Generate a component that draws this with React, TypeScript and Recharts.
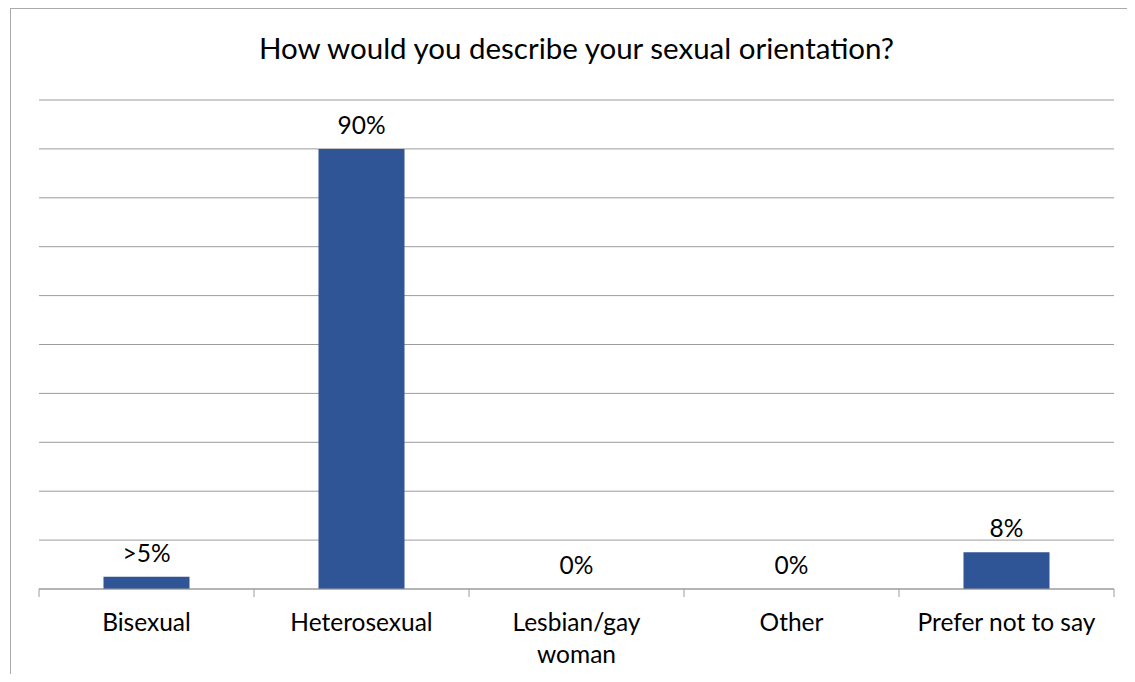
import { ComposedChart, Bar, Line, XAxis, YAxis, CartesianGrid, LabelList } from "recharts";

const categories = ["Bisexual", "Heterosexual", "Lesbian/gay\nwoman", "Other", "Prefer not to say"];
const shares = [2.5, 90, 0, 0, 7.5];
const shareLabels = [">5%", "90%", "0%", "0%", "8%"];
const yTicks = [0, 10, 20, 30, 40, 50, 60, 70, 80, 90, 100];

const TITLE = "How would you describe your sexual orientation?";
const FONT = "Lato, 'Noto Sans', sans-serif";
const BAR_COLOR = "#2f5597";
const LINE_COLOR = "#9c9c9c";

const W = 1124;
const H = 665;
const MARGIN = { top: 91, right: 21, bottom: 25, left: 28 };
const PLOT_H = 489;
const AXIS_Y = MARGIN.top + PLOT_H;
const BAND = (W - MARGIN.left - MARGIN.right) / categories.length;

const data = categories.map((name, i) => ({
  name,
  value: shares[i],
  label: shareLabels[i],
}));

function CategoryTick(props: any) {
  const { x, payload, index } = props;
  const half = typeof payload?.offset === "number" && payload.offset > 0 ? payload.offset : BAND / 2;
  const lines = String(payload.value).split("\n");
  return (
    <g>
      <line x1={x - half} x2={x - half} y1={AXIS_Y} y2={AXIS_Y + 8} stroke={LINE_COLOR} />
      {index === categories.length - 1 && (
        <line x1={x + half} x2={x + half} y1={AXIS_Y} y2={AXIS_Y + 8} stroke={LINE_COLOR} />
      )}
      <text x={x} y={AXIS_Y + 42} textAnchor="middle" fill="#000" fontSize={24.5} fontFamily={FONT}>
        {lines.map((l, i) => (
          <tspan key={i} x={x} dy={i === 0 ? 0 : 32}>
            {l}
          </tspan>
        ))}
      </text>
    </g>
  );
}

const NoTick = () => <g />;

function ValueLabel(props: any) {
  const { x, y, value } = props;
  return (
    <text x={x} y={y - 15} textAnchor="middle" fill="#000" fontSize={24.5} fontFamily={FONT}>
      {value}
    </text>
  );
}

export default function App() {
  return (
    <>
      <style>{"html,body{overflow:hidden}"}</style>
      <div
        style={{
          position: "relative",
          marginLeft: 2,
          marginRight: -8,
          height: H,
          borderLeft: "1px solid #aaaaaa",
          borderTop: "1px solid #aaaaaa",
          background: "#fff",
          overflow: "hidden",
        }}
      >
        <div
          style={{
            position: "absolute",
            top: 24,
            left: MARGIN.left,
            width: W - MARGIN.left - MARGIN.right,
            textAlign: "center",
            fontFamily: FONT,
            fontSize: 29.5,
            lineHeight: "29px",
            color: "#000",
          }}
        >
          {TITLE}
        </div>
        <ComposedChart width={W} height={H} data={data} margin={MARGIN} barCategoryGap="30%">
          <CartesianGrid vertical={false} stroke={LINE_COLOR} />
          <YAxis
            domain={[0, 100]}
            ticks={yTicks}
            width={0}
            tick={<NoTick />}
            axisLine={false}
            tickLine={false}
          />
          <XAxis
            dataKey="name"
            height={60}
            interval={0}
            tickLine={false}
            axisLine={{ stroke: LINE_COLOR }}
            tick={<CategoryTick />}
          />
          <Bar dataKey="value" fill={BAR_COLOR} isAnimationActive={false} />
          <Line
            dataKey="value"
            stroke="none"
            dot={false}
            activeDot={false}
            legendType="none"
            isAnimationActive={false}
          >
            <LabelList dataKey="label" content={<ValueLabel />} />
          </Line>
        </ComposedChart>
      </div>
    </>
  );
}
